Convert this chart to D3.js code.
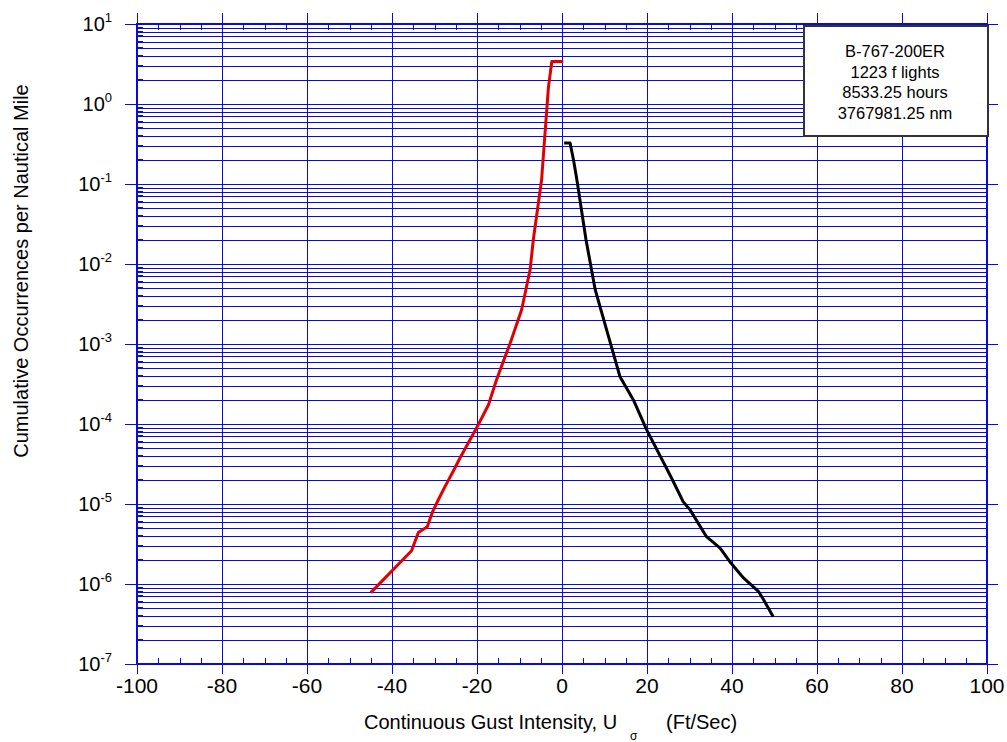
<!DOCTYPE html>
<html><head><meta charset="utf-8">
<script src="https://cdn.jsdelivr.net/npm/d3@7"></script>
<style>body{margin:0;background:#fff;}svg{display:block;font-family:Arial,"Liberation Sans",sans-serif;}</style>
</head><body><svg id="c" width="1007" height="742"></svg>
<script>
const negX = [0.3, -2.4, -3.2, -4.8, -6.75, -7.5, -9.5, -12.2, -13.8, -15.4, -17.3, -19.7, -24.0, -25.6, -27.5, -29.1, -30.5, -31.7, -33.8, -35.4, -45.0];
const negY = [3.4, 3.4, 1.6, 0.113, 0.0201, 0.0085, 0.00268, 1.02e-3, 6.06e-4, 3.58e-4, 1.74e-4, 9.8e-5, 3.76e-5, 2.57e-5, 1.66e-5, 1.13e-5, 7.9e-6, 5.2e-6, 4.4e-6, 2.6e-6, 7.8e-7];
const posX = [0.5, 1.9, 2.7, 3.5, 5.65, 7.8, 10.5, 13.65, 16.8, 19.9, 25.8, 28.5, 30.1, 34.0, 37.2, 39.5, 42.7, 46.2, 47.4, 49.7];
const posY = [0.325, 0.325, 0.201, 0.113, 0.0201, 4.8e-3, 1.5e-3, 3.9e-4, 2.0e-4, 8.5e-5, 2.1e-5, 1.07e-5, 8.5e-6, 3.9e-6, 2.8e-6, 1.9e-6, 1.19e-6, 8.1e-7, 6.4e-7, 3.9e-7];
const xTicks = [-100, -80, -60, -40, -20, 0, 20, 40, 60, 80, 100];
const yExponents = [1, 0, -1, -2, -3, -4, -5, -6, -7];
const legendLines = ["B-767-200ER", "1223 f lights", "8533.25 hours", "3767981.25 nm"];
const xTitle = "Continuous Gust Intensity, U";
const xTitleSub = "σ";
const xTitleUnit = "(Ft/Sec)";
const yTitle = "Cumulative Occurrences per Nautical Mile";

const L = 137, R = 987, T = 24, B = 664;
const svg = d3.select("#c");
const x = d3.scaleLinear().domain([-100, 100]).range([L, R]);
const y = d3.scaleLog().domain([1e-7, 10]).range([B, T]);
const blue = "#0a0ae0";

const g = svg.append("g").attr("shape-rendering", "crispEdges");
const minors = [];
for (let e = -7; e < 1; e++) for (let m = 2; m <= 9; m++) minors.push(m * Math.pow(10, e));
g.selectAll("line.hm").data(minors).join("line")
  .attr("x1", L).attr("x2", R).attr("y1", d => Math.round(y(d))).attr("y2", d => Math.round(y(d)))
  .attr("stroke", blue).attr("stroke-width", 1);
g.selectAll("line.lm").data(minors).join("line")
  .attr("x1", L).attr("x2", L + 6).attr("y1", d => Math.round(y(d))).attr("y2", d => Math.round(y(d)))
  .attr("stroke", blue).attr("stroke-width", 2);
const majors = yExponents.map(e => Math.pow(10, e));
g.selectAll("line.hM").data(majors).join("line")
  .attr("x1", L - 12).attr("x2", R + 11).attr("y1", d => Math.round(y(d))).attr("y2", d => Math.round(y(d)))
  .attr("stroke", blue).attr("stroke-width", 1);
g.selectAll("line.v").data(xTicks).join("line")
  .attr("x1", d => Math.round(x(d))).attr("x2", d => Math.round(x(d)))
  .attr("y1", T - 11).attr("y2", B + 10)
  .attr("stroke", blue).attr("stroke-width", 1);
const xMinor = d3.range(-95, 100, 5).filter(v => v % 20 !== 0);
g.selectAll("line.xb").data(xMinor).join("line")
  .attr("x1", d => Math.round(x(d))).attr("x2", d => Math.round(x(d)))
  .attr("y1", B).attr("y2", B - 6).attr("stroke", blue).attr("stroke-width", 1);
g.selectAll("line.xt").data(xMinor).join("line")
  .attr("x1", d => Math.round(x(d))).attr("x2", d => Math.round(x(d)))
  .attr("y1", T).attr("y2", T + 6).attr("stroke", blue).attr("stroke-width", 1);
g.append("rect").attr("x", L).attr("y", T).attr("width", R - L).attr("height", B - T)
  .attr("fill", "none").attr("stroke", blue).attr("stroke-width", 2);

const line = d3.line().x(d => x(d[0])).y(d => y(d[1]));
svg.append("path").datum(negX.map((v, i) => [v, negY[i]]))
  .attr("d", line).attr("fill", "none").attr("stroke", "#e00000").attr("stroke-width", 3)
  .attr("stroke-linejoin", "round");
svg.append("path").datum(posX.map((v, i) => [v, posY[i]]))
  .attr("d", line).attr("fill", "none").attr("stroke", "#000").attr("stroke-width", 3)
  .attr("stroke-linejoin", "round");

svg.selectAll("text.xl").data(xTicks).join("text")
  .attr("x", d => x(d)).attr("y", B + 29).attr("text-anchor", "middle")
  .attr("font-size", 21).attr("fill", "#000").text(d => d);
const yl = svg.selectAll("text.yl").data(yExponents).join("text")
  .attr("x", L - 25).attr("y", d => y(Math.pow(10, d)) + 7).attr("text-anchor", "end")
  .attr("font-size", 20).attr("fill", "#000");
yl.append("tspan").text("10");
yl.append("tspan").attr("dy", -9).attr("font-size", 13).text(d => d);

const xt = svg.append("text").attr("y", 729).attr("font-size", 20).attr("fill", "#000");
xt.append("tspan").attr("x", 364).text(xTitle);
xt.append("tspan").attr("x", 630).attr("dy", 11).attr("font-size", 12).text(xTitleSub);
xt.append("tspan").attr("x", 666).attr("dy", -11).text(xTitleUnit);
svg.append("text").attr("transform", "translate(28,271) rotate(-90)")
  .attr("text-anchor", "middle").attr("font-size", 20).attr("fill", "#000").text(yTitle);

svg.append("rect").attr("x", 804).attr("y", 26).attr("width", 184).attr("height", 110)
  .attr("fill", "#fff").attr("stroke", "#333").attr("stroke-width", 1.5).attr("shape-rendering", "crispEdges");
svg.selectAll("text.lg").data(legendLines).join("text")
  .attr("x", 895).attr("y", (d, i) => 57 + i * 20.7).attr("text-anchor", "middle")
  .attr("font-size", 16.5).attr("fill", "#000").text(d => d);
</script></body></html>
